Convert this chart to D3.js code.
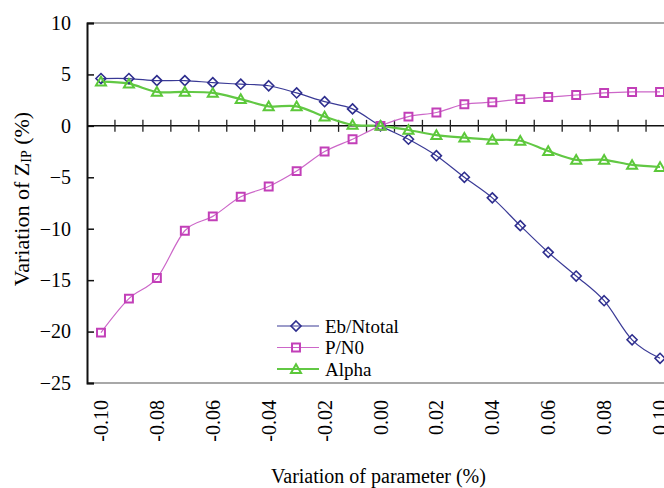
<!DOCTYPE html>
<html>
<head>
<meta charset="utf-8">
<script src="https://cdn.jsdelivr.net/npm/d3@7"></script>
<style>
  html, body { margin: 0; padding: 0; background: #fff; }
  svg { display: block; }
  svg text { font-family: "Liberation Serif", "Times New Roman", serif; fill: #000; }
</style>
</head>
<body>
<svg id="chart" width="664" height="488"></svg>
<script>
// Parameter variation categories (x axis)
const categories = ["-0.10","-0.09","-0.08","-0.07","-0.06","-0.05","-0.04","-0.03","-0.02","-0.01",
                    "0.00","0.01","0.02","0.03","0.04","0.05","0.06","0.07","0.08","0.09","0.10"];
// Labels shown under the axis (every other category)
const xTickLabels = ["-0.10","-0.08","-0.06","-0.04","-0.02","0.00","0.02","0.04","0.06","0.08","0.10"];
const yTicks = [-25, -20, -15, -10, -5, 0, 5, 10];

// Variation of Z_IP (%) per parameter
const ebNtotal = [4.6, 4.6, 4.4, 4.4, 4.2, 4.05, 3.9, 3.2, 2.35, 1.65,
                  0.0, -1.3, -2.9, -5.0, -7.0, -9.7, -12.3, -14.6, -17.0, -20.8, -22.6];
const pN0      = [-20.1, -16.8, -14.8, -10.2, -8.8, -6.9, -5.9, -4.4, -2.5, -1.3,
                  0.0, 0.9, 1.3, 2.1, 2.3, 2.6, 2.8, 3.0, 3.2, 3.3, 3.3];
const alpha    = [4.3, 4.1, 3.3, 3.3, 3.2, 2.6, 1.9, 1.9, 0.9, 0.1,
                  0.0, -0.4, -0.9, -1.15, -1.35, -1.45, -2.45, -3.3, -3.3, -3.8, -4.0];

const seriesNames = ["Eb/Ntotal", "P/N0", "Alpha"];

const series = [
  { name: seriesNames[0], values: ebNtotal, color: "#2e2e8e", lineColor: "#3a3a96", lineWidth: 1.2, marker: "diamond" },
  { name: seriesNames[1], values: pN0,      color: "#c23fb8", lineColor: "#cc66c8", lineWidth: 1.2, marker: "square" },
  { name: seriesNames[2], values: alpha,    color: "#5cc83a", lineColor: "#62c844", lineWidth: 2.2, marker: "triangle" }
];

const svg = d3.select("#chart");
const plot = { left: 87, top: 23, bottom: 383, right: 674 };

const x = d3.scaleBand().domain(categories).range([plot.left, plot.right]).padding(0);
const y = d3.scaleLinear().domain([-25, 10]).range([plot.bottom, plot.top]);
const cx = c => x(c) + x.bandwidth() / 2;

// Plot frame: grey top and bottom edges
svg.append("line").attr("x1", plot.left).attr("x2", plot.right)
  .attr("y1", plot.top).attr("y2", plot.top)
  .attr("stroke", "#a8a8a8").attr("stroke-width", 2);
svg.append("line").attr("x1", plot.left).attr("x2", plot.right)
  .attr("y1", plot.bottom).attr("y2", plot.bottom)
  .attr("stroke", "#a8a8a8").attr("stroke-width", 2);

// Value axis with inward ticks
const yAxis = svg.append("g")
  .attr("transform", `translate(${plot.left},0)`)
  .call(d3.axisLeft(y).tickValues(yTicks).tickSize(-7).tickPadding(16).tickFormat(d3.format("d")));
yAxis.attr("font-family", null).attr("font-size", null);
yAxis.select(".domain").attr("stroke", "#111").attr("stroke-width", 2);
yAxis.selectAll(".tick line").attr("stroke", "#111").attr("stroke-width", 1.5);
yAxis.selectAll(".tick text").attr("font-size", 20).attr("fill", "#000");

// Category axis crossing at zero, ticks between categories
const y0 = y(0);
svg.append("line").attr("x1", plot.left).attr("x2", plot.right)
  .attr("y1", y0).attr("y2", y0).attr("stroke", "#111").attr("stroke-width", 1.5);
svg.append("g").selectAll("line")
  .data(categories.slice(1))
  .join("line")
  .attr("x1", d => x(d)).attr("x2", d => x(d))
  .attr("y1", y0 - 6).attr("y2", y0 + 6)
  .attr("stroke", "#222").attr("stroke-width", 1.3);

// Category labels, rotated, below the plot
svg.append("g").selectAll("text")
  .data(xTickLabels)
  .join("text")
  .attr("transform", d => `translate(${cx(d)},400) rotate(-90)`)
  .attr("text-anchor", "end")
  .attr("dy", "0.35em")
  .attr("font-size", 20)
  .text(d => d);

// Axis titles
svg.append("text")
  .attr("x", (plot.left + plot.right) / 2 - 2)
  .attr("y", 483)
  .attr("text-anchor", "middle")
  .attr("font-size", 20)
  .text("Variation of parameter (%)");

const yTitle = svg.append("text")
  .attr("transform", `translate(29,${(plot.top + plot.bottom) / 2 - 4}) rotate(-90)`)
  .attr("text-anchor", "middle")
  .attr("font-size", 22);
yTitle.append("tspan").text("Variation of Z");
yTitle.append("tspan").attr("font-size", 14).attr("dy", 2).text("IP");
yTitle.append("tspan").attr("dy", -2).text(" (%)");

// Marker shapes
const markerPath = {
  diamond: d3.symbol().type(d3.symbolDiamond2 || d3.symbolDiamond).size(64)(),
  square: d3.symbol().type(d3.symbolSquare2 || d3.symbolSquare).size(80)(),
  triangle: d3.symbol().type(d3.symbolTriangle2 || d3.symbolTriangle).size(72)()
};

const line = d3.line()
  .x((d, i) => cx(categories[i]))
  .y(d => y(d))
  .curve(d3.curveCatmullRom.alpha(0));

const plotG = svg.append("g");
series.forEach(s => {
  plotG.append("path")
    .datum(s.values)
    .attr("d", line)
    .attr("fill", "none")
    .attr("stroke", s.lineColor)
    .attr("stroke-width", s.lineWidth);
});
series.forEach(s => {
  plotG.append("g").selectAll("path")
    .data(s.values)
    .join("path")
    .attr("transform", (d, i) => `translate(${cx(categories[i])},${y(d) + (s.marker === "triangle" ? 1 : 0)})`)
    .attr("d", markerPath[s.marker])
    .attr("fill", "none")
    .attr("stroke", s.color)
    .attr("stroke-width", s.marker === "diamond" ? 1.6 : 2);
});

// Legend
const legend = svg.append("g").attr("transform", "translate(277,326)");
series.forEach((s, i) => {
  const g = legend.append("g").attr("transform", `translate(0,${i * 21.5})`);
  g.append("line").attr("x1", 0).attr("x2", 42).attr("y1", 0).attr("y2", 0)
    .attr("stroke", s.lineColor).attr("stroke-width", s.lineWidth);
  g.append("path").attr("transform", `translate(19,${s.marker === "triangle" ? 1 : 0})`)
    .attr("d", markerPath[s.marker])
    .attr("fill", "none").attr("stroke", s.color)
    .attr("stroke-width", s.marker === "diamond" ? 1.6 : 2);
  g.append("text").attr("x", 48).attr("dy", "0.35em").attr("font-size", 19).text(s.name);
});
</script>
</body>
</html>
